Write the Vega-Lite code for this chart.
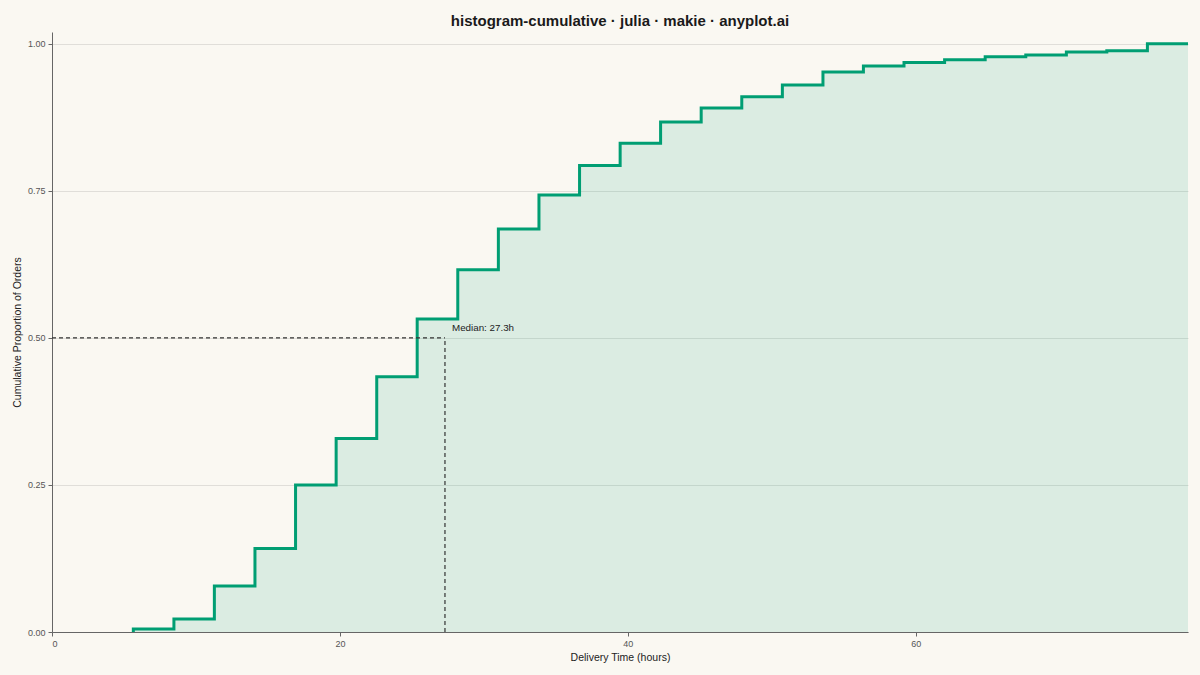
{
  "$schema": "https://vega.github.io/schema/vega-lite/v6.json",
  "description": "Cumulative histogram of delivery times",
  "width": 1136,
  "height": 600,
  "autosize": {"type": "none"},
  "padding": {"left": 52, "top": 32, "right": 12, "bottom": 43},
  "background": "#FAF8F2",
  "config": {
    "view": {"stroke": null},
    "font": "Liberation Sans",
    "axis": {
      "domainColor": "#666666",
      "tickColor": "#666666",
      "labelColor": "#555555",
      "titleColor": "#222222",
      "labelFontSize": 9,
      "titleFontSize": 10.5,
      "titleFontWeight": "normal",
      "tickSize": 4,
      "labelPadding": 3,
      "gridColor": "#000000",
      "gridOpacity": 0.1
    }
  },
  "title": {
    "text": "histogram-cumulative · julia · makie · anyplot.ai",
    "fontSize": 15,
    "fontWeight": "bold",
    "color": "#1a1a1a",
    "anchor": "middle",
    "offset": 3
  },
  "datasets": {
    "cdf": [
      {"hours": 5.65, "prop": 0},
      {"hours": 5.65, "prop": 0.005},
      {"hours": 8.47, "prop": 0.022},
      {"hours": 11.28, "prop": 0.078},
      {"hours": 14.10, "prop": 0.142},
      {"hours": 16.92, "prop": 0.25},
      {"hours": 19.74, "prop": 0.329},
      {"hours": 22.56, "prop": 0.434},
      {"hours": 25.37, "prop": 0.532},
      {"hours": 28.19, "prop": 0.616},
      {"hours": 31.01, "prop": 0.685},
      {"hours": 33.83, "prop": 0.743},
      {"hours": 36.65, "prop": 0.793},
      {"hours": 39.47, "prop": 0.831},
      {"hours": 42.28, "prop": 0.867},
      {"hours": 45.10, "prop": 0.891},
      {"hours": 47.92, "prop": 0.910},
      {"hours": 50.74, "prop": 0.930},
      {"hours": 53.56, "prop": 0.952},
      {"hours": 56.37, "prop": 0.962},
      {"hours": 59.19, "prop": 0.968},
      {"hours": 62.01, "prop": 0.973},
      {"hours": 64.83, "prop": 0.978},
      {"hours": 67.65, "prop": 0.981},
      {"hours": 70.47, "prop": 0.986},
      {"hours": 73.28, "prop": 0.988},
      {"hours": 76.10, "prop": 1.0},
      {"hours": 78.92, "prop": 1.0}
    ],
    "median": [
      {"x": 0, "x2": 27.3, "y": 0.5, "y2": 0.5},
      {"x": 27.3, "x2": 27.3, "y": 0, "y2": 0.5}
    ],
    "label": [
      {"x": 27.3, "y": 0.5, "text": "Median: 27.3h"}
    ]
  },
  "layer": [
    {
      "data": {"name": "cdf"},
      "mark": {"type": "area", "interpolate": "step-after", "color": "#009E73", "opacity": 0.12},
      "encoding": {
        "x": {
          "field": "hours",
          "type": "quantitative",
          "scale": {"domain": [0, 78.92], "nice": false, "zero": false},
          "axis": {"values": [0, 20, 40, 60], "grid": false, "title": "Delivery Time (hours)", "titlePadding": 4}
        },
        "y": {
          "field": "prop",
          "type": "quantitative",
          "scale": {"domain": [0, 1.02], "nice": false},
          "axis": {"values": [0, 0.25, 0.5, 0.75, 1], "format": ".2f", "title": "Cumulative Proportion of Orders", "titlePadding": 5}
        }
      }
    },
    {
      "data": {"name": "cdf"},
      "mark": {"type": "line", "interpolate": "step-after", "color": "#009E73", "strokeWidth": 3},
      "encoding": {
        "x": {"field": "hours", "type": "quantitative"},
        "y": {"field": "prop", "type": "quantitative"}
      }
    },
    {
      "data": {"name": "median"},
      "mark": {"type": "rule", "color": "#333333", "strokeWidth": 1.2, "strokeDash": [4, 3]},
      "encoding": {
        "x": {"field": "x", "type": "quantitative"},
        "x2": {"field": "x2"},
        "y": {"field": "y", "type": "quantitative"},
        "y2": {"field": "y2"}
      }
    },
    {
      "data": {"name": "label"},
      "mark": {"type": "text", "align": "left", "baseline": "alphabetic", "dx": 7, "dy": -7, "fontSize": 9.8, "color": "#222222"},
      "encoding": {
        "x": {"field": "x", "type": "quantitative"},
        "y": {"field": "y", "type": "quantitative"},
        "text": {"field": "text"}
      }
    }
  ]
}
